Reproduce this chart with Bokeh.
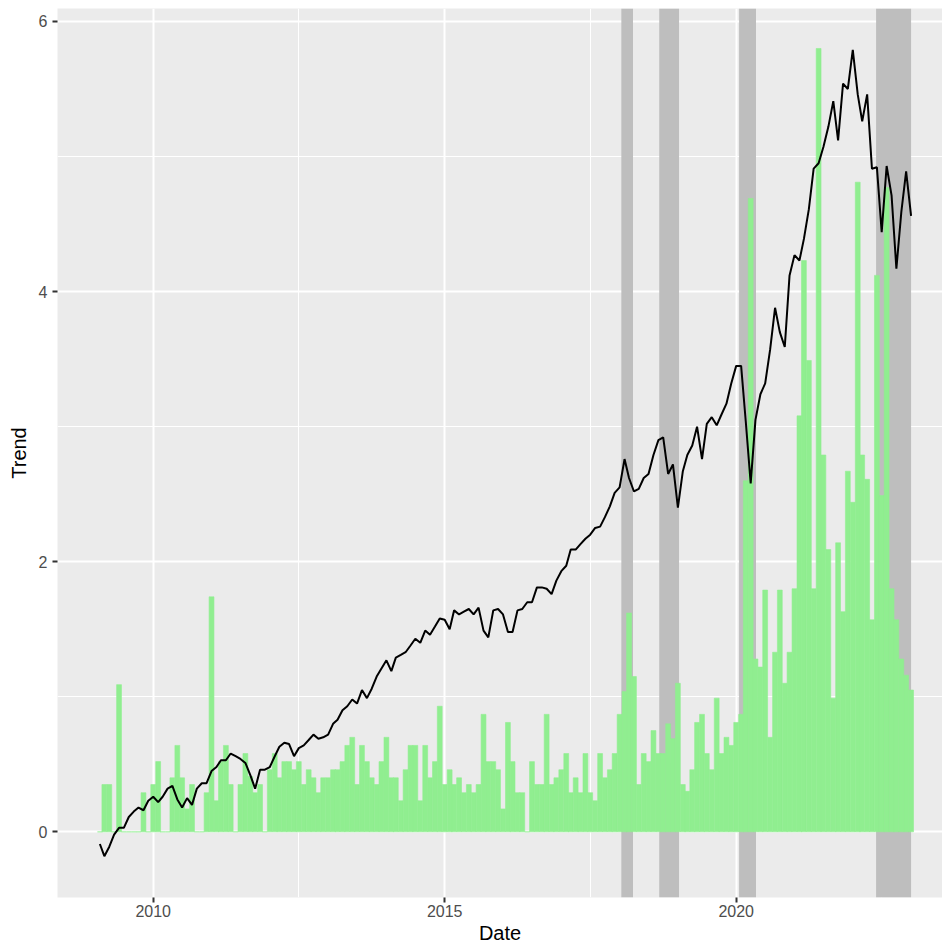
import pandas as pd
from bokeh.plotting import figure
from bokeh.models import Range1d, FixedTicker, ColumnDataSource
from bokeh.embed import file_html
from bokeh.resources import INLINE

# Monthly dates (month end), Jan 2009 - Dec 2022
dates = pd.date_range("2009-01-31", periods=168, freq="ME")

trend = [
    -0.09, -0.18, -0.11, -0.02, 0.03, 0.03, 0.11, 0.15, 0.18, 0.16, 0.23, 0.26,
    0.22, 0.26, 0.32, 0.34, 0.24, 0.18, 0.25, 0.20, 0.32, 0.36, 0.36, 0.45,
    0.48, 0.53, 0.53, 0.58, 0.56, 0.54, 0.51, 0.42, 0.32, 0.46, 0.46, 0.48,
    0.56, 0.63, 0.66, 0.65, 0.56, 0.62, 0.64, 0.68, 0.72, 0.69, 0.70, 0.72,
    0.80, 0.83, 0.90, 0.93, 0.98, 0.95, 1.05, 0.99, 1.06, 1.15, 1.21, 1.27,
    1.19, 1.29, 1.31, 1.33, 1.38, 1.43, 1.40, 1.49, 1.46, 1.52, 1.58, 1.57,
    1.50, 1.64, 1.61, 1.63, 1.65, 1.61, 1.66, 1.49, 1.44, 1.64, 1.65, 1.61,
    1.48, 1.48, 1.64, 1.65, 1.70, 1.70, 1.81, 1.81, 1.80, 1.76, 1.86, 1.93,
    1.97, 2.09, 2.09, 2.13, 2.17, 2.20, 2.25, 2.26, 2.33, 2.41, 2.51, 2.55,
    2.76, 2.62, 2.52, 2.54, 2.62, 2.65, 2.79, 2.90, 2.92, 2.65, 2.72, 2.40,
    2.67, 2.79, 2.86, 3.00, 2.76, 3.02, 3.07, 3.01, 3.09, 3.17, 3.32, 3.45,
    3.45, 3.04, 2.58, 3.05, 3.24, 3.32, 3.57, 3.88, 3.70, 3.59, 4.12, 4.27,
    4.23, 4.39, 4.61, 4.91, 4.95, 5.07, 5.22, 5.41, 5.12, 5.54, 5.50, 5.79,
    5.46, 5.26, 5.46, 4.91, 4.92, 4.44, 4.93, 4.71, 4.17, 4.59, 4.89, 4.56,
]

bars = [
    0.00, 0.35, 0.35, 0.00, 1.09, 0.00, 0.00, 0.00, 0.00, 0.29, 0.00, 0.35,
    0.52, 0.00, 0.00, 0.40, 0.64, 0.40, 0.17, 0.35, 0.00, 0.00, 0.29, 1.74,
    0.23, 0.52, 0.64, 0.35, 0.00, 0.35, 0.58, 0.41, 0.29, 0.35, 0.00, 0.46,
    0.58, 0.40, 0.52, 0.52, 0.46, 0.52, 0.35, 0.46, 0.40, 0.29, 0.40, 0.40,
    0.46, 0.46, 0.52, 0.64, 0.70, 0.35, 0.64, 0.52, 0.40, 0.35, 0.52, 0.70,
    0.40, 0.40, 0.23, 0.46, 0.64, 0.64, 0.23, 0.64, 0.40, 0.52, 0.93, 0.35,
    0.46, 0.35, 0.40, 0.29, 0.35, 0.29, 0.35, 0.87, 0.52, 0.52, 0.46, 0.17,
    0.81, 0.52, 0.29, 0.29, 0.00, 0.52, 0.35, 0.35, 0.87, 0.35, 0.40, 0.46,
    0.58, 0.29, 0.40, 0.29, 0.58, 0.29, 0.23, 0.58, 0.40, 0.46, 0.58, 0.87,
    1.04, 1.62, 1.15, 0.35, 0.58, 0.52, 0.75, 0.58, 0.58, 0.80, 0.69, 1.10,
    0.35, 0.30, 0.46, 0.81, 0.87, 0.58, 0.46, 0.99, 0.58, 0.70, 0.64, 0.81,
    0.87, 2.60, 4.69, 1.28, 1.22, 1.79, 0.70, 1.33, 1.79, 1.10, 1.33, 1.80,
    3.08, 4.23, 3.49, 1.80, 5.80, 2.79, 2.09, 0.99, 2.14, 1.63, 2.67, 2.44,
    4.81, 2.79, 2.61, 1.57, 4.12, 2.49, 4.77, 1.80, 1.57, 1.28, 1.16, 1.05,
]

# shaded periods (decimal years)
shade_start = [2018.03, 2018.68, 2020.05, 2022.40]
shade_end = [2018.23, 2019.02, 2020.34, 2023.00]

x_ticks = [2010, 2015, 2020]
x_minor = [2012.5, 2017.5, 2022.5]
y_ticks = [0, 2, 4, 6]
y_minor = [1, 3, 5]

x_lo, x_hi = 2008.358, 2023.539
y_lo, y_hi = -0.486, 6.096


def dec_year(d):
    days = 366 if d.is_leap_year else 365
    return d.year + d.dayofyear / days


xs = [dec_year(d) for d in dates]
src = ColumnDataSource(dict(x=xs, trend=trend, bars=bars))

FONT = "Liberation Sans"

p = figure(
    width=942, height=946,
    output_backend="svg", toolbar_location=None,
    x_range=Range1d(x_lo, x_hi), y_range=Range1d(y_lo, y_hi),
    min_border_left=57, min_border_right=0, min_border_top=8, min_border_bottom=46,
)
p.background_fill_color = "#EBEBEB"
p.border_fill_color = "white"
p.outline_line_color = None

p.xaxis.ticker = FixedTicker(ticks=x_ticks, minor_ticks=x_minor)
p.yaxis.ticker = FixedTicker(ticks=y_ticks, minor_ticks=y_minor)
p.xaxis.major_label_overrides = {t: str(t) for t in x_ticks}

for g in (p.xgrid, p.ygrid):
    g.grid_line_color = "white"
    g.grid_line_width = 2
    g.minor_grid_line_color = "white"
    g.minor_grid_line_width = 1

for ax in (p.xaxis, p.yaxis):
    ax.axis_line_color = None
    ax.major_tick_line_color = "#333333"
    ax.major_tick_line_width = 2
    ax.major_tick_out = 5
    ax.major_tick_in = 0
    ax.minor_tick_line_color = None
    ax.major_label_text_font = FONT
    ax.major_label_text_font_size = "16px"
    ax.major_label_text_color = "#4D4D4D"
    ax.axis_label_text_font = FONT
    ax.axis_label_text_font_size = "20px"
    ax.axis_label_text_font_style = "normal"
    ax.axis_label_text_color = "black"

p.xaxis.axis_label = "Date"
p.yaxis.axis_label = "Trend"
p.xaxis.major_label_standoff = 2
p.xaxis.axis_label_standoff = 2
p.yaxis.major_label_standoff = 5
p.yaxis.axis_label_standoff = 6

# shaded periods
p.quad(left=shade_start, right=shade_end, bottom=y_lo, top=y_hi,
       fill_color="#BEBEBE", line_color=None)

# bars
p.vbar(x="x", top="bars", bottom=0, width=1 / 12, source=src,
       fill_color="#90EE90", line_color="#90EE90", line_width=0.6)

# trend line
p.line(x="x", y="trend", source=src, line_color="black", line_width=2)

open("out.html", "w").write(file_html(p, INLINE))
